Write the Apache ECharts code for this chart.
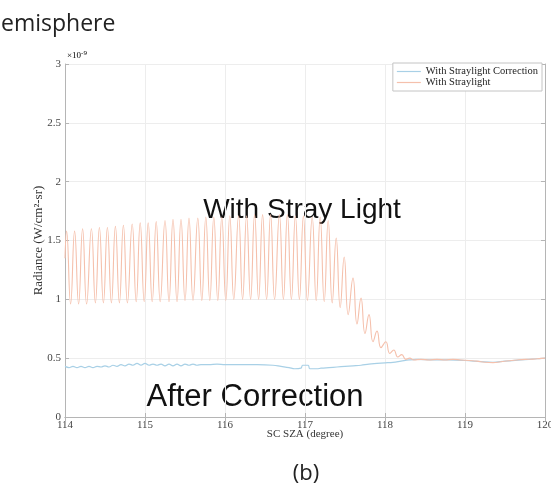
<!DOCTYPE html>
<html><head><meta charset="utf-8">
<script src="https://cdn.jsdelivr.net/npm/echarts@6/dist/echarts.min.js"></script>
<style>html,body{margin:0;padding:0;background:#fff}#c{width:551px;height:484px}</style>
</head><body><div id="c"></div>
<script>
const xTicks = [114, 115, 116, 117, 118, 119, 120];
const yTicks = [0, 0.5, 1, 1.5, 2, 2.5, 3];
const seriesNames = ['With Straylight Correction', 'With Straylight'];

// With Straylight: oscillation peaks, troughs, and merged tail (units of 1e-9)
const redStartX = [114.00];
const redStartY = [1.35];
const redPeakX = [114.02, 114.12, 114.22, 114.33, 114.43, 114.53, 114.63, 114.73, 114.84, 114.94,
  115.04, 115.14, 115.25, 115.35, 115.45, 115.55, 115.66, 115.76, 115.86, 115.96,
  116.06, 116.17, 116.27, 116.37, 116.47, 116.57, 116.68, 116.78, 116.88, 116.98,
  117.09, 117.19, 117.29, 117.39, 117.49, 117.60, 117.70, 117.80, 117.90, 118.01, 118.11, 118.21, 118.31];
const redPeakY = [1.58, 1.58, 1.60, 1.60, 1.61, 1.61, 1.62, 1.63, 1.64, 1.65,
  1.65, 1.66, 1.67, 1.68, 1.68, 1.69, 1.69, 1.70, 1.70, 1.70,
  1.71, 1.71, 1.71, 1.72, 1.72, 1.72, 1.72, 1.72, 1.71, 1.71,
  1.70, 1.70, 1.67, 1.52, 1.36, 1.18, 1.01, 0.87, 0.73, 0.64, 0.57, 0.53, 0.50];
const redTroughX = [114.07, 114.17, 114.27, 114.38, 114.48, 114.58, 114.68, 114.78, 114.89, 114.99,
  115.09, 115.19, 115.30, 115.40, 115.50, 115.60, 115.71, 115.81, 115.91, 116.01,
  116.11, 116.22, 116.32, 116.42, 116.52, 116.62, 116.73, 116.83, 116.93, 117.03,
  117.14, 117.24, 117.34, 117.44, 117.54, 117.65, 117.75, 117.85, 117.95, 118.06, 118.16, 118.26];
const redTroughY = [0.96, 0.96, 0.96, 0.97, 0.97, 0.97, 0.97, 0.97, 0.98, 0.98,
  0.98, 0.98, 0.98, 0.98, 0.99, 0.99, 0.99, 0.99, 0.99, 0.99,
  1.00, 1.00, 1.00, 1.00, 1.00, 1.00, 1.00, 1.00, 1.00, 0.99,
  0.99, 0.98, 0.97, 0.93, 0.87, 0.79, 0.71, 0.64, 0.59, 0.54, 0.51, 0.49];
const redTailX = [118.36, 118.45, 118.55, 118.65, 118.75, 118.85, 118.95, 119.05, 119.15, 119.25,
  119.35, 119.45, 119.55, 119.65, 119.75, 119.85, 119.95, 120.00];
const redTailY = [0.485, 0.49, 0.485, 0.49, 0.485, 0.49, 0.485, 0.48, 0.475, 0.465,
  0.462, 0.47, 0.478, 0.485, 0.49, 0.492, 0.498, 0.50];

// With Straylight Correction
const blueX = [114.00, 114.05, 114.10, 114.15, 114.20, 114.25, 114.30, 114.35, 114.40, 114.45,
  114.50, 114.55, 114.60, 114.65, 114.70, 114.75, 114.80, 114.85, 114.90, 114.95,
  115.00, 115.05, 115.10, 115.15, 115.20, 115.25, 115.30, 115.35, 115.40, 115.45,
  115.50, 115.55, 115.60, 115.65, 115.70, 115.80, 115.90, 116.00, 116.20, 116.40,
  116.60, 116.70, 116.80, 116.87, 116.95, 116.97, 117.04, 117.06, 117.15, 117.20,
  117.30, 117.40, 117.50, 117.60, 117.70, 117.80, 117.90, 118.00, 118.10, 118.20,
  118.30, 118.40, 118.60, 118.80, 119.00, 119.20, 119.35, 119.50, 119.70, 119.90, 120.00];
const blueY = [0.43, 0.42, 0.43, 0.42, 0.43, 0.42, 0.43, 0.42, 0.43, 0.425,
  0.435, 0.425, 0.44, 0.43, 0.445, 0.435, 0.45, 0.44, 0.455, 0.44,
  0.455, 0.44, 0.45, 0.44, 0.45, 0.435, 0.45, 0.435, 0.45, 0.435,
  0.45, 0.44, 0.45, 0.44, 0.445, 0.445, 0.45, 0.445, 0.445, 0.445,
  0.44, 0.43, 0.42, 0.41, 0.415, 0.44, 0.44, 0.41, 0.41, 0.415,
  0.42, 0.425, 0.43, 0.435, 0.44, 0.45, 0.455, 0.46, 0.465, 0.475,
  0.485, 0.49, 0.485, 0.485, 0.48, 0.47, 0.465, 0.475, 0.485, 0.495, 0.50];

function zipPairs(xs, ys) { return xs.map((x, i) => [x, ys[i]]); }
const redData = zipPairs(redStartX, redStartY)
  .concat(zipPairs(redPeakX, redPeakY), zipPairs(redTroughX, redTroughY), zipPairs(redTailX, redTailY))
  .sort((a, b) => a[0] - b[0]);
const blueData = zipPairs(blueX, blueY);

const serif = 'Liberation Serif';
const axisGray = '#b5b5b5';
const blueColor = '#a8d0e6';
const redColor = '#f5c0ac';
const chart = echarts.init(document.getElementById('c'), null, { renderer: 'canvas' });
chart.setOption({
  animation: false,
  backgroundColor: '#fff',
  grid: { left: 65, right: 6, top: 64, bottom: 67, containLabel: false, outerBoundsMode: 'none' },
  legend: {
    orient: 'vertical', right: 9, top: 63,
    data: seriesNames.map(n => ({ name: n, icon: 'rect' })),
    itemWidth: 24, itemHeight: 1.2, itemGap: 0,
    padding: [3, 4, 3, 4],
    borderColor: '#c4c4c4', borderWidth: 1,
    backgroundColor: '#fff',
    textStyle: { fontFamily: serif, fontSize: 10.5, color: '#222', lineHeight: 10, padding: [0, 0, 0, 0] }
  },
  xAxis: [{
    type: 'value', min: xTicks[0], max: xTicks[xTicks.length - 1], interval: 1,
    axisLine: { show: true, lineStyle: { color: axisGray } },
    axisTick: { show: true, inside: true, length: 4, lineStyle: { color: axisGray } },
    axisLabel: { color: '#444', fontFamily: serif, fontSize: 11, margin: 3 },
    splitLine: { show: true, lineStyle: { color: '#ededed' } },
    name: 'SC SZA (degree)', nameLocation: 'middle', nameGap: 12, nameMoveOverlap: false,
    nameTextStyle: { color: '#333', fontFamily: serif, fontSize: 11 }
  }, {
    type: 'value', position: 'top', min: xTicks[0], max: xTicks[xTicks.length - 1], interval: 1,
    axisLine: { show: true, lineStyle: { color: axisGray } },
    axisTick: { show: true, inside: true, length: 4, lineStyle: { color: axisGray } },
    axisLabel: { show: false }, splitLine: { show: false }
  }],
  yAxis: [{
    type: 'value', min: yTicks[0], max: yTicks[yTicks.length - 1], interval: 0.5,
    axisLine: { show: true, lineStyle: { color: axisGray } },
    axisTick: { show: true, inside: true, length: 4, lineStyle: { color: axisGray } },
    axisLabel: { color: '#444', fontFamily: serif, fontSize: 11, margin: 4 },
    splitLine: { show: true, lineStyle: { color: '#ededed' } },
    name: 'Radiance (W/cm²-sr)', nameLocation: 'middle', nameGap: 20, nameMoveOverlap: false,
    nameTextStyle: { color: '#333', fontFamily: serif, fontSize: 13 }
  }, {
    type: 'value', position: 'right', min: yTicks[0], max: yTicks[yTicks.length - 1], interval: 0.5,
    axisLine: { show: true, lineStyle: { color: axisGray } },
    axisTick: { show: true, inside: true, length: 4, lineStyle: { color: axisGray } },
    axisLabel: { show: false }, splitLine: { show: false }
  }],
  series: [{
    name: seriesNames[0], type: 'line', data: blueData, symbol: 'none', smooth: 0.4,
    lineStyle: { color: blueColor, width: 1.2 }, itemStyle: { color: blueColor }
  }, {
    name: seriesNames[1], type: 'line', data: redData, symbol: 'none', smooth: 0.5,
    lineStyle: { color: redColor, width: 1.1 }, itemStyle: { color: redColor }
  }],
  graphic: [
    { type: 'text', left: 1, top: 13, style: { text: 'emisphere', font: '23px "Open Sans"', fill: '#222' } },
    { type: 'text', x: 67, y: 62, style: {
      text: '{a|×10}{b|-9}', textVerticalAlign: 'bottom',
      rich: { a: { fontFamily: serif, fontSize: 9, color: '#555' },
              b: { fontFamily: serif, fontSize: 7, color: '#555', verticalAlign: 'top', padding: [0, 0, 5, 0] } } } },
    { type: 'text', x: 302, y: 210, style: { text: 'With Stray Light', font: '28px "Liberation Sans"', fill: '#111', textAlign: 'center', textVerticalAlign: 'middle' } },
    { type: 'text', x: 255, y: 397, style: { text: 'After Correction', font: '31px "Liberation Sans"', fill: '#111', textAlign: 'center', textVerticalAlign: 'middle' } },
    { type: 'text', x: 306, y: 474, style: { text: '(b)', font: '22px "Open Sans"', fill: '#222', textAlign: 'center', textVerticalAlign: 'middle' } }
  ]
});
</script>
</body></html>
